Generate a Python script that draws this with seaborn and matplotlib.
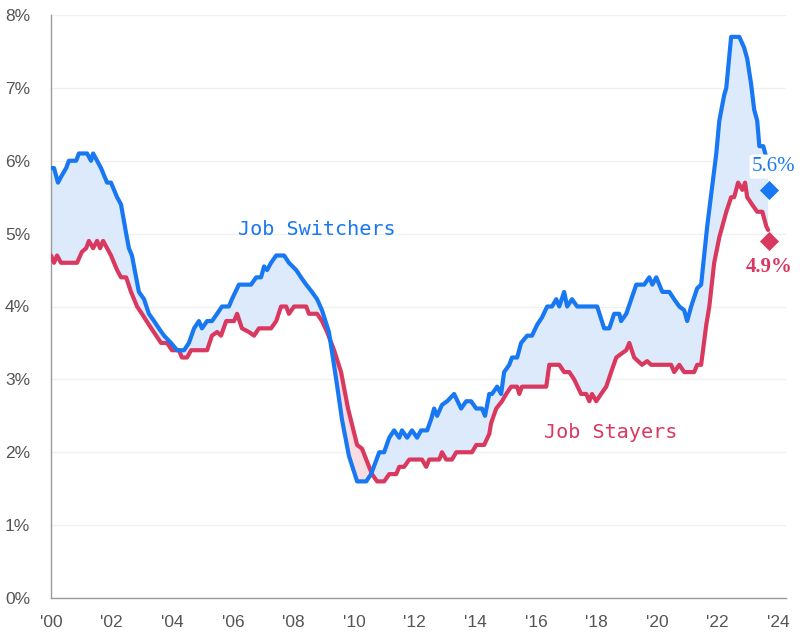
import numpy as np
import pandas as pd
import seaborn as sns
import matplotlib.pyplot as plt

# decimal years (offset from 2000) and wage growth in %
switch_yr = [0.00, 0.10, 0.23, 0.36, 0.50, 0.59, 0.83, 0.92, 1.19, 1.32, 1.39, 1.52, 1.65, 1.75,
             1.85, 1.98, 2.08, 2.18, 2.31, 2.48, 2.57, 2.67, 2.81, 2.90, 3.07, 3.23, 3.40, 3.56,
             3.73, 3.96, 4.16, 4.39, 4.55, 4.72, 4.88, 4.98, 5.15, 5.31, 5.48, 5.64, 5.87, 5.97,
             6.20, 6.60, 6.77, 6.93, 7.03, 7.13, 7.26, 7.43, 7.69, 7.85, 8.09, 8.25, 8.42, 8.61,
             8.78, 8.94, 9.17, 9.41, 9.60, 9.83, 10.10, 10.40, 10.56, 10.83, 10.99, 11.16, 11.32,
             11.49, 11.58, 11.75, 11.91, 12.08, 12.21, 12.41, 12.54, 12.64, 12.74, 12.90, 13.07,
             13.30, 13.53, 13.70, 13.86, 14.03, 14.22, 14.32, 14.46, 14.55, 14.72, 14.85, 14.95,
             15.12, 15.21, 15.38, 15.51, 15.71, 15.87, 16.04, 16.20, 16.37, 16.53, 16.67, 16.77,
             16.93, 17.03, 17.19, 17.36, 18.02, 18.25, 18.42, 18.58, 18.75, 18.81, 18.98, 19.31,
             19.57, 19.74, 19.84, 19.97, 20.17, 20.40, 20.56, 20.73, 20.89, 20.99, 21.12, 21.32,
             21.45, 21.65, 21.95, 22.05, 22.21, 22.28, 22.44, 22.71, 22.87, 22.97, 23.10, 23.20,
             23.30, 23.37, 23.50, 23.63]
switch_val = [5.9, 5.9, 5.7, 5.8, 5.9, 6.0, 6.0, 6.1, 6.1, 6.0, 6.1, 6.0, 5.9, 5.8,
              5.7, 5.7, 5.6, 5.5, 5.4, 5.0, 4.8, 4.7, 4.4, 4.2, 4.1, 3.9, 3.8, 3.7,
              3.6, 3.5, 3.4, 3.4, 3.5, 3.7, 3.8, 3.7, 3.8, 3.8, 3.9, 4.0, 4.0, 4.1,
              4.3, 4.3, 4.4, 4.4, 4.55, 4.5, 4.6, 4.7, 4.7, 4.6, 4.5, 4.4, 4.3, 4.2,
              4.1, 3.95, 3.65, 3.0, 2.45, 1.95, 1.6, 1.6, 1.7, 2.0, 2.0, 2.2, 2.3,
              2.2, 2.3, 2.2, 2.3, 2.2, 2.3, 2.3, 2.45, 2.6, 2.5, 2.65, 2.7,
              2.8, 2.6, 2.7, 2.7, 2.6, 2.6, 2.5, 2.8, 2.8, 2.9, 2.8, 3.1,
              3.2, 3.3, 3.3, 3.5, 3.6, 3.6, 3.75, 3.85, 4.0, 4.0, 4.1, 4.0,
              4.2, 4.0, 4.1, 4.0, 4.0, 3.7, 3.7, 3.9, 3.9, 3.8, 3.9, 4.3,
              4.3, 4.4, 4.3, 4.4, 4.2, 4.2, 4.1, 4.0, 3.95, 3.8, 4.0, 4.25,
              4.3, 5.1, 6.1, 6.55, 6.9, 7.0, 7.7, 7.7, 7.55, 7.4, 7.05, 6.7,
              6.55, 6.2, 6.2, 6.0]

stay_yr = [0.00, 0.10, 0.20, 0.33, 0.86, 1.02, 1.16, 1.25, 1.39, 1.52, 1.62, 1.72, 1.85, 1.98,
           2.08, 2.18, 2.31, 2.48, 2.64, 2.74, 2.84, 3.00, 3.23, 3.47, 3.63, 3.83, 3.99, 4.22,
           4.32, 4.49, 4.62, 5.15, 5.31, 5.48, 5.61, 5.78, 6.04, 6.14, 6.30, 6.53, 6.70, 6.86,
           7.26, 7.43, 7.59, 7.76, 7.85, 8.02, 8.42, 8.51, 8.78, 8.94, 9.11, 9.34, 9.57, 9.80,
           10.10, 10.26, 10.40, 10.59, 10.76, 10.99, 11.16, 11.39, 11.49, 11.65, 11.82, 12.24,
           12.38, 12.48, 12.81, 12.90, 13.04, 13.23, 13.37, 13.89, 14.03, 14.29, 14.46, 14.52,
           14.69, 14.88, 15.02, 15.18, 15.38, 15.45, 15.54, 16.34, 16.44, 16.77, 16.93, 17.10,
           17.26, 17.49, 17.66, 17.76, 17.85, 17.99, 18.15, 18.32, 18.48, 18.65, 18.81, 18.98,
           19.08, 19.24, 19.50, 19.67, 19.80, 20.46, 20.56, 20.73, 20.89, 21.22, 21.32, 21.45,
           21.62, 21.72, 21.88, 22.05, 22.28, 22.44, 22.54, 22.67, 22.81, 22.90, 22.97, 23.13,
           23.30, 23.47, 23.60, 23.66]
stay_val = [4.7, 4.6, 4.7, 4.6, 4.6, 4.75, 4.8, 4.9, 4.8, 4.9, 4.8, 4.9, 4.8, 4.7,
            4.6, 4.5, 4.4, 4.4, 4.2, 4.1, 4.0, 3.9, 3.75, 3.6, 3.5, 3.5, 3.4, 3.4,
            3.3, 3.3, 3.4, 3.4, 3.6, 3.65, 3.6, 3.8, 3.8, 3.9, 3.7, 3.65, 3.6, 3.7,
            3.7, 3.8, 4.0, 4.0, 3.9, 4.0, 4.0, 3.9, 3.9, 3.8, 3.65, 3.4, 3.1, 2.6,
            2.1, 2.05, 1.9, 1.7, 1.6, 1.6, 1.7, 1.7, 1.8, 1.8, 1.9, 1.9,
            1.8, 1.9, 1.9, 2.0, 1.9, 1.9, 2.0, 2.0, 2.1, 2.1, 2.25, 2.4,
            2.6, 2.7, 2.8, 2.9, 2.9, 2.8, 2.9, 2.9, 3.2, 3.2, 3.1, 3.1,
            3.0, 2.8, 2.8, 2.7, 2.8, 2.7, 2.8, 2.9, 3.1, 3.3, 3.35, 3.4,
            3.5, 3.3, 3.2, 3.25, 3.2, 3.2, 3.1, 3.2, 3.1, 3.1, 3.2, 3.2,
            3.75, 4.0, 4.6, 4.95, 5.3, 5.5, 5.5, 5.7, 5.6, 5.7, 5.5, 5.4,
            5.3, 5.3, 5.1, 5.05]

latest_yr = 23.70
latest_switch = 5.6
latest_stay = 4.9

tick_years = list(range(0, 25, 2))
tick_labels = ["'%02d" % y for y in tick_years]

BLUE = "#1877F2"
RED = "#D9385F"

sns.set_theme(style="white")
plt.rcParams['font.family'] = ['Liberation Sans', 'DejaVu Sans']

sw = pd.DataFrame({"year": np.array(switch_yr) + 2000, "val": switch_val})
st = pd.DataFrame({"year": np.array(stay_yr) + 2000, "val": stay_val})

fig = plt.figure(figsize=(8, 6.33), dpi=100)
ax = fig.add_axes([51 / 800, 35 / 633, 735 / 800, 583 / 633])

# shading between the two series on a shared x grid
grid = np.union1d(sw["year"].values, st["year"].values)
b = np.interp(grid, sw["year"], sw["val"])
r = np.interp(grid, st["year"], st["val"])
ax.fill_between(grid, r, b, where=b >= r, interpolate=True, color="#DDEAFB", lw=0, zorder=1)
ax.fill_between(grid, r, b, where=b < r, interpolate=True, color="#F8DCE3", lw=0, zorder=1)

sns.lineplot(data=st, x="year", y="val", ax=ax, color=RED, lw=3, sort=False, zorder=3)
sns.lineplot(data=sw, x="year", y="val", ax=ax, color=BLUE, lw=3, sort=False, zorder=4)

ax.scatter([2000 + latest_yr], [latest_switch], marker="D", s=95, color=BLUE, zorder=5, lw=0)
ax.scatter([2000 + latest_yr], [latest_stay], marker="D", s=95, color=RED, zorder=5, lw=0)

ax.text(2000 + latest_yr + 0.15, latest_switch + 0.32, "5.6%", color=BLUE, fontsize=15,
        family="Liberation Serif", ha="center", va="center", zorder=6,
        bbox=dict(boxstyle="round,pad=0.12", fc="white", ec="none"))
ax.text(2000 + latest_yr - 0.02, latest_stay - 0.36, "4.9%", color=RED, fontsize=15,
        family="Liberation Serif", fontweight="bold", ha="center", va="center", zorder=6)

ax.text(2008.78, 5.05, "Job Switchers", color=BLUE, fontsize=14.5, family="DejaVu Sans Mono",
        ha="center", va="center")
ax.text(2018.48, 2.27, "Job Stayers", color=RED, fontsize=14.5, family="DejaVu Sans Mono",
        ha="center", va="center")

ax.set_xlim(2000, 2024.25)
ax.set_ylim(0, 8)
ax.set_xticks([2000 + t for t in tick_years])
ax.set_xticklabels(tick_labels)
ax.set_yticks(range(0, 9))
ax.set_yticklabels([f"{v}%" for v in range(0, 9)])
ax.set_xlabel("")
ax.set_ylabel("")

ax.grid(axis="y", color="#F0F0F0", lw=1)
ax.grid(axis="x", visible=False)
for side in ["top", "right"]:
    ax.spines[side].set_visible(False)
for side in ["left", "bottom"]:
    ax.spines[side].set_color("#9A9A9A")
    ax.spines[side].set_linewidth(1)
ax.tick_params(axis="both", colors="#9A9A9A", labelcolor="#555555", labelsize=12.5,
               length=5, width=1, direction="out")
ax.tick_params(axis="x", pad=6, length=6)
ax.tick_params(axis="y", pad=10)
ax.set_axisbelow(True)

fig.savefig("out.png", dpi=100)
